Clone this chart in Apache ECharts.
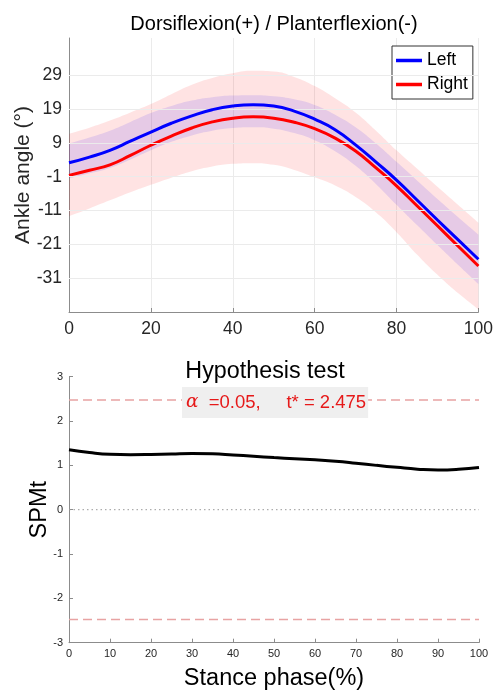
<!DOCTYPE html>
<html>
<head>
<meta charset="utf-8">
<script src="https://cdn.jsdelivr.net/npm/echarts@6/dist/echarts.min.js"></script>
<style>html,body{margin:0;padding:0;background:#fff}#c{width:496px;height:695px}</style>
</head>
<body>
<div id="c"></div>
<script>
// ---------- data ----------
const phase = [0,5,10,15,20,25,30,35,40,45,50,55,60,65,70,75,80,85,90,95,100];
const leftMean  = [3.1,4.8,6.8,9.5,12.2,14.8,17.0,18.8,19.9,20.3,19.9,18.4,16.0,12.9,8.4,3.3,-2.0,-7.9,-13.8,-19.6,-25.4];
const rightMean = [-0.6,0.9,2.5,5.3,8.3,11.0,13.4,15.2,16.3,16.7,16.3,15.1,13.2,10.4,6.6,1.6,-3.7,-9.6,-15.5,-21.5,-27.4];
const leftUpper  = [8.8,10.6,12.6,15.2,17.8,19.9,21.5,22.5,23.0,23.1,22.8,21.9,20.2,17.3,13.6,8.8,3.4,-2.1,-7.6,-12.9,-18.1];
const leftLower  = [-1.5,0.0,1.6,4.1,6.8,9.3,11.2,12.6,13.4,13.6,13.2,11.9,9.8,6.5,2.2,-3.2,-9.3,-15.3,-21.2,-27.0,-32.7];
const rightUpper = [11.7,13.5,15.6,18.0,20.5,23.4,26.2,28.2,29.6,30.3,30.1,28.5,25.8,22.2,18.0,12.6,6.8,1.4,-4.0,-9.3,-14.6];
const rightLower = [-12.7,-10.4,-8.0,-5.6,-3.4,-1.3,0.6,2.0,2.8,3.0,2.5,1.0,-1.2,-3.6,-7.0,-11.6,-17.4,-24.0,-30.0,-35.4,-40.2];
const spmT = [1.35,1.29,1.25,1.24,1.245,1.255,1.265,1.26,1.235,1.205,1.175,1.15,1.125,1.095,1.05,1.0,0.955,0.915,0.895,0.91,0.95];
const tCrit = 2.475;
const alphaLevel = 0.05;
const angleTicks = [-31,-21,-11,-1,9,19,29];
const phaseTicksTop = [0,20,40,60,80,100];
const spmTicks = [-3,-2,-1,0,1,2,3];
const phaseTicksBottom = [0,10,20,30,40,50,60,70,80,90,100];

// ---------- chart ----------
const FONT = '"Liberation Sans", Arial, Helvetica, sans-serif';
const AX = '#8c8c8c';
const TXT = '#262626';
const SM = 0.5;
const chart = echarts.init(document.getElementById('c'), null, {renderer: 'canvas'});
const pairs = (ys) => phase.map((x, i) => [x, ys[i]]);
const diff = (a, b) => a.map((v, i) => +(v - b[i]).toFixed(3));

const option = {
  animation: false,
  backgroundColor: '#fff',
  textStyle: {fontFamily: FONT},
  grid: [
    {left: 69, right: 17, top: 38, height: 274, containLabel: false},
    {left: 69, right: 17, top: 376.7, height: 266, containLabel: false}
  ],
  legend: {
    data: ['Left', 'Right'],
    orient: 'vertical',
    left: 392, top: 46,
    padding: [4, 5, 4, 4],
    itemGap: 3,
    itemWidth: 26, itemHeight: 3.5,
    icon: 'rect',
    borderColor: '#333', borderWidth: 1,
    backgroundColor: '#fff',
    textStyle: {fontSize: 17.5, color: '#000', lineHeight: 21, fontFamily: FONT}
  },
  xAxis: [
    {
      gridIndex: 0, type: 'value', min: 0, max: 100, interval: 20,
      axisLine: {show: true, onZero: false, lineStyle: {color: AX, width: 1}},
      axisTick: {show: true, inside: true, length: 4, lineStyle: {color: AX}},
      axisLabel: {fontSize: 17.5, color: TXT, margin: 8, fontFamily: FONT,
        customValues: phaseTicksTop},
      splitLine: {show: true, lineStyle: {color: '#ebebeb', width: 1}}
    },
    {
      gridIndex: 0, type: 'category', show: false, boundaryGap: false,
      data: phase.map(String)
    },
    {
      gridIndex: 1, type: 'value', min: 0, max: 100, interval: 10,
      name: 'Stance phase(%)', nameLocation: 'middle', nameGap: 24, nameMoveOverlap: false,
      nameTextStyle: {fontSize: 23.5, color: '#000', fontFamily: FONT},
      axisLine: {show: true, onZero: false, lineStyle: {color: AX, width: 1}},
      axisTick: {show: true, inside: true, length: 4, lineStyle: {color: AX}},
      axisLabel: {fontSize: 11, color: TXT, margin: 6, fontFamily: FONT,
        customValues: phaseTicksBottom},
      splitLine: {show: false}
    }
  ],
  yAxis: [
    {
      gridIndex: 0, type: 'value', min: -41, max: 40, interval: 10,
      name: 'Ankle angle (°)', nameLocation: 'middle', nameGap: 35, nameMoveOverlap: false,
      nameTextStyle: {fontSize: 21, color: TXT, fontFamily: FONT},
      axisLine: {show: true, onZero: false, lineStyle: {color: AX, width: 1}},
      axisTick: {show: true, inside: true, length: 4, lineStyle: {color: AX},
        customValues: angleTicks},
      axisLabel: {fontSize: 17.5, color: TXT, margin: 7, fontFamily: FONT,
        customValues: angleTicks},
      splitLine: {show: false}
    },
    {
      gridIndex: 1, type: 'value', min: -3, max: 3, interval: 1,
      name: 'SPMt', nameLocation: 'middle', nameGap: 17, nameMoveOverlap: false,
      nameTextStyle: {fontSize: 23.5, color: '#000', fontFamily: FONT},
      axisLine: {show: true, onZero: false, lineStyle: {color: AX, width: 1}},
      axisTick: {show: true, inside: true, length: 4, lineStyle: {color: AX}},
      axisLabel: {fontSize: 11, color: TXT, margin: 6, fontFamily: FONT,
        customValues: spmTicks},
      splitLine: {show: false}
    }
  ],
  graphic: [
    {type: 'text', x: 274, y: 14, silent: true,
      style: {text: 'Dorsiflexion(+) / Planterflexion(-)', fill: '#000',
        font: '20px ' + FONT, align: 'center', verticalAlign: 'top',
        textAlign: 'center', textVerticalAlign: 'top'}},
    {type: 'text', x: 265, y: 360, silent: true,
      style: {text: 'Hypothesis test', fill: '#000',
        font: '23.3px ' + FONT, align: 'center', verticalAlign: 'top',
        textAlign: 'center', textVerticalAlign: 'top'}},
    {type: 'text', x: 182, y: 387, z: 100, silent: true,
      style: {
        text: '{a|α}  =' + alphaLevel.toFixed(2) + ',     t* = ' + tCrit.toFixed(3),
        fill: '#e61919', font: '18.5px ' + FONT,
        backgroundColor: '#efefef', padding: [5, 2, 5, 4], lineHeight: 21,
        rich: {a: {fontFamily: '"DejaVu Serif", "Liberation Serif", serif', fontStyle: 'italic',
          fontSize: 18.5, fill: '#e61919', lineHeight: 21}}
      }}
  ],
  series: [
    // horizontal grid lines (top panel)
    {
      type: 'line', xAxisIndex: 0, yAxisIndex: 0, data: [], silent: true, z: 1,
      markLine: {
        silent: true, symbol: 'none', label: {show: false}, animation: false,
        lineStyle: {color: '#ebebeb', width: 1, type: 'solid'},
        data: angleTicks.map(v => ({yAxis: v}))
      }
    },
    // right (red) band
    {
      name: 'rLow', type: 'line', xAxisIndex: 1, yAxisIndex: 0, stack: 'rb', stackStrategy: 'all',
      data: rightLower, smooth: SM, symbol: 'none', silent: true, z: 2,
      lineStyle: {opacity: 0}
    },
    {
      name: 'rBand', type: 'line', xAxisIndex: 1, yAxisIndex: 0, stack: 'rb', stackStrategy: 'all',
      data: diff(rightUpper, rightLower), smooth: SM, symbol: 'none', silent: true, z: 2,
      lineStyle: {opacity: 0}, areaStyle: {color: 'rgba(255,0,0,0.11)', opacity: 1}
    },
    // left (blue) band
    {
      name: 'lLow', type: 'line', xAxisIndex: 1, yAxisIndex: 0, stack: 'lb', stackStrategy: 'all',
      data: leftLower, smooth: SM, symbol: 'none', silent: true, z: 3,
      lineStyle: {opacity: 0}
    },
    {
      name: 'lBand', type: 'line', xAxisIndex: 1, yAxisIndex: 0, stack: 'lb', stackStrategy: 'all',
      data: diff(leftUpper, leftLower), smooth: SM, symbol: 'none', silent: true, z: 3,
      lineStyle: {opacity: 0}, areaStyle: {color: 'rgba(30,0,255,0.11)', opacity: 1}
    },
    {
      name: 'Right', type: 'line', xAxisIndex: 0, yAxisIndex: 0,
      data: pairs(rightMean), smooth: SM, symbol: 'none', z: 4,
      itemStyle: {color: '#ff0000'},
      lineStyle: {color: '#ff0000', width: 3}
    },
    {
      name: 'Left', type: 'line', xAxisIndex: 0, yAxisIndex: 0,
      data: pairs(leftMean), smooth: SM, symbol: 'none', z: 5,
      itemStyle: {color: '#0000ff'},
      lineStyle: {color: '#0000ff', width: 3}
    },
    // bottom panel
    {
      name: 'tUpper', type: 'line', xAxisIndex: 2, yAxisIndex: 1,
      data: [[0, tCrit], [100, tCrit]], symbol: 'none', silent: true,
      lineStyle: {color: '#e8a3a3', width: 1.5, type: [9, 5]}
    },
    {
      name: 'tLower', type: 'line', xAxisIndex: 2, yAxisIndex: 1,
      data: [[0, -tCrit], [100, -tCrit]], symbol: 'none', silent: true,
      lineStyle: {color: '#e8a3a3', width: 1.5, type: [9, 5]}
    },
    {
      name: 'zero', type: 'line', xAxisIndex: 2, yAxisIndex: 1,
      data: [[0, 0], [100, 0]], symbol: 'none', silent: true,
      lineStyle: {color: '#999', width: 1, type: [1.5, 3]}
    },
    {
      name: 'SPM', type: 'line', xAxisIndex: 2, yAxisIndex: 1,
      data: pairs(spmT), smooth: SM, symbol: 'none', silent: true,
      lineStyle: {color: '#000', width: 3}
    }
  ]
};
chart.setOption(option);
</script>
</body>
</html>
